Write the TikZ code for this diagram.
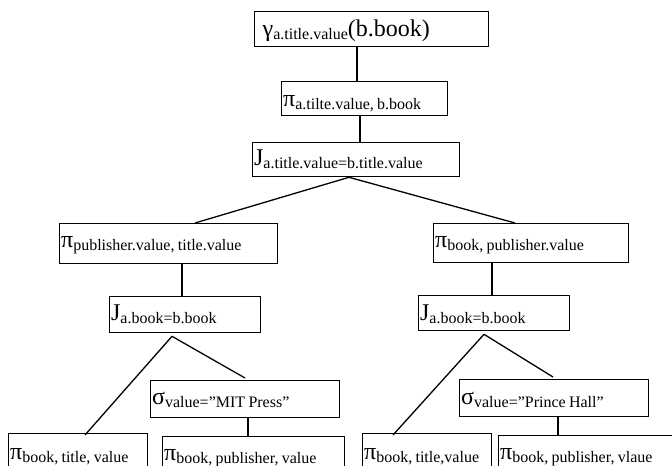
\documentclass[tikz,border=0pt]{standalone}
\usepackage{fontspec}
\setmainfont{Liberation Serif}
\usetikzlibrary{calc}
\newcommand{\mkop}[2]{{\fontsize{24bp}{24bp}\selectfont #1}\raisebox{-3bp}{\fontsize{16bp}{16bp}\selectfont #2}}
\tikzset{
  opbox/.style n args={3}{draw, line width=1.3bp, rectangle, anchor=north west,
    inner ysep=0pt, inner xsep=1.5bp, align=left,
    text width=#1bp-3bp, text height=#2bp, text depth=#3bp},
  conn/.style={line width=1.3bp}
}
\begin{document}
\begin{tikzpicture}[x=1bp,y=-1bp]
\useasboundingbox (0,0) rectangle (672,466);
\clip (0,0) rectangle (672,466);
% top chain
\node[opbox={234}{25}{10}, inner xsep=8bp, text width=218bp] (A) at (254,11) {\mkop{γ}{a.title.value}{\fontsize{24bp}{24bp}\selectfont(b.book)}};
\node[opbox={166}{25}{9}] (B) at (281,81) {\mkop{π}{a.tilte.value, b.book}};
\node[opbox={207}{23}{11}] (C) at (252,142) {\mkop{J}{a.title.value=b.title.value}};
% left branch
\node[opbox={218}{24}{16}] (D) at (59,223) {\mkop{π}{publisher.value, title.value}};
\node[opbox={151}{24}{12}] (E) at (109,296) {\mkop{J}{a.book=b.book}};
\node[opbox={189}{24}{13}] (F) at (150,380) {\mkop{σ}{value=”MIT Press”}};
\node[opbox={139}{26}{40}] (G) at (8,433) {\mkop{π}{book, title, value}};
\node[opbox={182}{24}{40}] (H) at (162,436) {\mkop{π}{book, publisher, value}};
% right branch
\node[opbox={195}{24}{15}] (I) at (433,223) {\mkop{π}{book, publisher.value}};
\node[opbox={151}{25}{10}] (J) at (418,295) {\mkop{J}{a.book=b.book}};
\node[opbox={189}{25}{12}] (K) at (459,379) {\mkop{σ}{value=”Prince Hall”}};
\node[opbox={129}{26}{40}] (L) at (362,433) {\mkop{π}{book, title,value}};
\node[opbox={200}{24}{40}] (M) at (498,435) {\mkop{π}{book, publisher, vlaue}};
% connectors
\draw[conn] (A.south -| 357,0) -- (B.north -| 357,0);
\draw[conn] (B.south -| 360,0) -- (C.north -| 360,0);
\draw[conn] (C.south -| 349,0) -- (D.north -| 195,0);
\draw[conn] (C.south -| 349,0) -- (I.north -| 515,0);
\draw[conn] (D.south -| 182,0) -- (E.north -| 182,0);
\draw[conn] ($(E.south -| 172,0)+(0,3)$) -- ($(G.north -| 85,0)+(0,2)$);
\draw[conn] ($(E.south -| 172,0)+(0,3)$) -- ($(F.north -| 245,0)+(0,-2)$);
\draw[conn] (F.south -| 248,0) -- (H.north -| 248,0);
\draw[conn] (I.south -| 492,0) -- (J.north -| 492,0);
\draw[conn] ($(J.south -| 484,0)+(0,3)$) -- ($(L.north -| 393,0)+(0,2)$);
\draw[conn] ($(J.south -| 484,0)+(0,3)$) -- ($(K.north -| 553,0)+(0,-2)$);
\draw[conn] (K.south -| 558,0) -- (M.north -| 558,0);
\end{tikzpicture}
\end{document}
